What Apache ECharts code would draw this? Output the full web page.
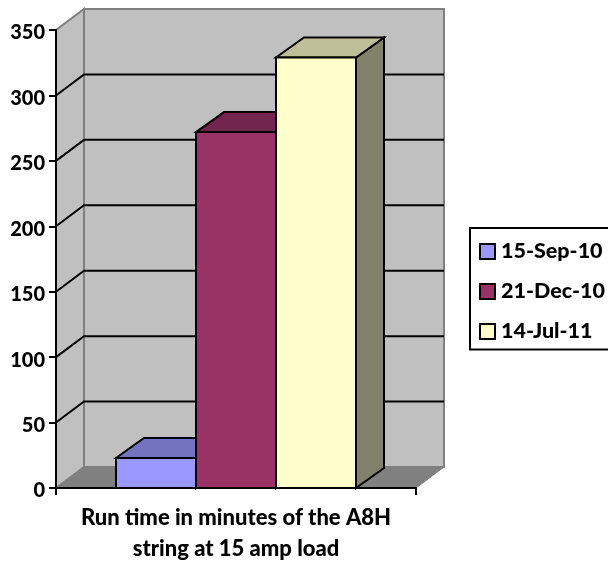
<!DOCTYPE html>
<html><head><meta charset="utf-8">
<style>html,body{margin:0;padding:0;background:#fff}#c{width:608px;height:562px}</style>
<script src="https://cdn.jsdelivr.net/npm/echarts@6/dist/echarts.min.js"></script>
</head><body><div id="c"></div>
<script>
const categoryLabel = "Run time in minutes of the A8H\nstring at 15 amp load";
const seriesNames = ["15-Sep-10", "21-Dec-10", "14-Jul-11"];
const seriesValues = [23, 272, 329];
const frontColors = ["#9999FF", "#993366", "#FFFFCC"];
const topColors = ["#7373BF", "#73264D", "#BFBF99"];
const sideColors = ["#5C5C99", "#5C1F3D", "#80806B"];
const yTicks = [0, 50, 100, 150, 200, 250, 300, 350];
const DX = 28, DY = 20, WALL_DY = 21;
const FONT = "Lato";
const WEIGHT = 900;

const chart = echarts.init(document.getElementById('c'), null, {renderer:'canvas'});
function poly(points, fill, stroke, lw){
  return {type:'polygon', shape:{points}, style:{fill, stroke:stroke||null, lineWidth:lw||0, lineJoin:'miter'}};
}
function wallsItem(params, api){
  const v = api.value(0);
  const cs = params.coordSys;
  const y = api.coord([0, v])[1];
  const L = cs.x, R = cs.x + cs.width;
  const kids = [];
  if (params.dataIndex === 0) {
    const yB = api.coord([0, 0])[1], yT = api.coord([0, 350])[1];
    kids.push(poly([[L,yB],[L+DX,yB-WALL_DY],[L+DX,yT-WALL_DY],[L,yT]], '#C0C0C0', '#808080', 2));
    kids.push(poly([[L+DX,yB-WALL_DY],[R+DX,yB-WALL_DY],[R+DX,yT-WALL_DY],[L+DX,yT-WALL_DY]], '#C0C0C0', '#808080', 2));
    kids.push(poly([[L,yB],[R,yB],[R+DX,yB-WALL_DY],[L+DX,yB-WALL_DY]], '#808080', '#808080', 1));
  } else if (v < 350) {
    kids.push({type:'polyline', shape:{points:[[L,y],[L+DX,y-WALL_DY],[R+DX,y-WALL_DY]]},
      style:{fill:null, stroke:'#000', lineWidth:2}});
  }
  return {type:'group', children:kids};
}
function barItem(i){
  return function(params, api){
    const c = api.coord([0, api.value(0)]);
    const base = api.coord([0, 0])[1];
    const cw = api.size([1, 0])[0];
    const w = cw * 80 / 360;
    const x0 = c[0] - 1.5 * w + i * w, x1 = x0 + w, y = c[1];
    const S = '#000', LW = 2;
    return {type:'group', children:[
      poly([[x1,base],[x1+DX,base-DY],[x1+DX,y-DY],[x1,y]], sideColors[i], S, LW),
      poly([[x0,y],[x1,y],[x1+DX,y-DY],[x0+DX,y-DY]], topColors[i], S, LW),
      poly([[x0,base],[x1,base],[x1,y],[x0,y]], frontColors[i], S, LW)
    ]};
  };
}
const series = [{
  type:'custom', name:'walls', silent:true, z:1, clip:false,
  renderItem:wallsItem, data:yTicks.map(v=>[v]), encode:{y:0}
}];
seriesNames.forEach((n,i)=>series.push({
  type:'custom', name:n, z:2+i, clip:false, renderItem:barItem(i),
  itemStyle:{color:frontColors[i]}, data:[[seriesValues[i]]], encode:{y:0}
}));
chart.setOption({
  animation:false, backgroundColor:'#fff',
  grid:{left:56, right:192, top:30, bottom:74, containLabel:false, outerBoundsMode:'none'},
  xAxis:{type:'category', data:[categoryLabel], z:5,
    axisLine:{lineStyle:{color:'#000', width:2}},
    axisTick:{show:true, length:7, lineStyle:{color:'#000', width:2}},
    axisLabel:{color:'#000', fontFamily:FONT, fontWeight:WEIGHT, fontSize:22, lineHeight:31, margin:14, interval:0}},
  yAxis:{type:'value', min:0, max:350, interval:50, z:5,
    axisLine:{show:true, lineStyle:{color:'#000', width:2}},
    axisTick:{show:true, length:7, lineStyle:{color:'#000', width:2}},
    splitLine:{show:false},
    axisLabel:{color:'#000', fontFamily:FONT, fontWeight:WEIGHT, fontSize:20, margin:11, verticalAlign:'top', lineHeight:6}},
  legend:{show:true, data:seriesNames.map(name=>({name, icon:'rect'})), orient:'vertical', left:470, top:228,
    padding:[12.5,20,7,9], itemGap:18, itemWidth:15, itemHeight:15,
    borderColor:'#000', borderWidth:2, backgroundColor:'#fff',
    selectedMode:false,
    itemStyle:{borderColor:'#000', borderWidth:2},
    textStyle:{color:'#000', fontFamily:FONT, fontWeight:WEIGHT, fontSize:21.5, padding:[0,0,0,1]}},
  series
});
</script></body></html>
